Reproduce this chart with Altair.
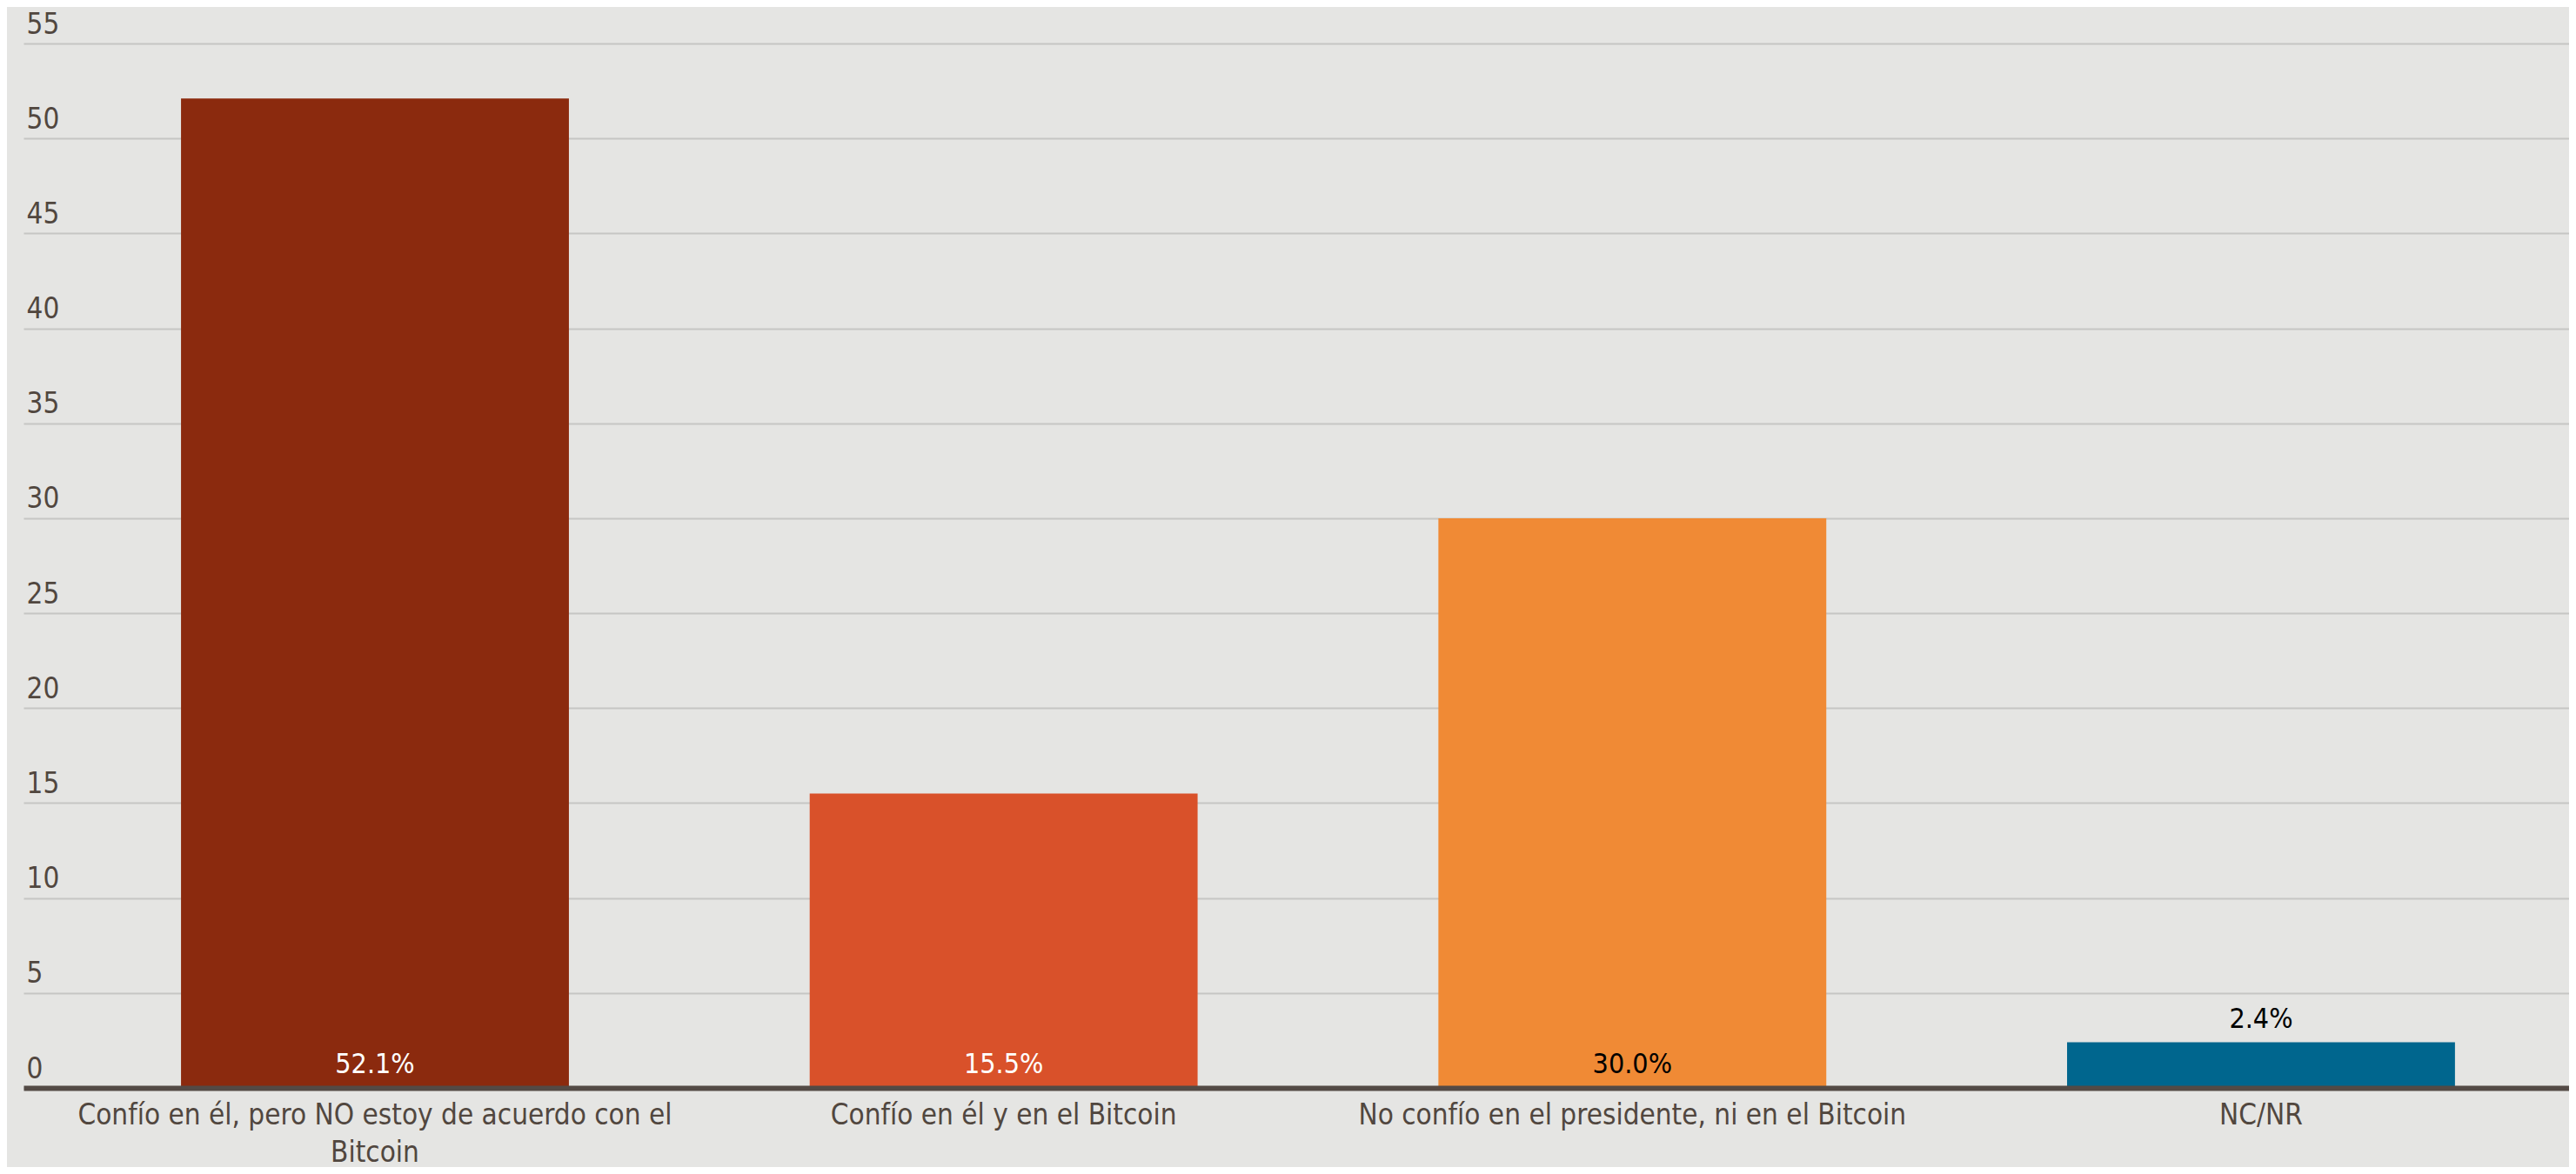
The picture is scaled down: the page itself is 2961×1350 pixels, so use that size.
import altair as alt
import pandas as pd

categories = [
    "Confío en él, pero NO estoy de acuerdo con el|Bitcoin",
    "Confío en él y en el Bitcoin",
    "No confío en el presidente, ni en el Bitcoin",
    "NC/NR",
]
values = [52.1, 15.5, 30.0, 2.4]
value_labels = ["52.1%", "15.5%", "30.0%", "2.4%"]
bar_colors = ["#8B2A0E", "#D9512A", "#F08A35", "#00668E"]
label_colors = ["#FFFFFF", "#FFFFFF", "#000000", "#000000"]
y_ticks = [0, 5, 10, 15, 20, 25, 30, 35, 40, 45, 50, 55]

df = pd.DataFrame({"cat": categories, "value": values, "label": value_labels})

FONT = "Liberation Sans Narrow, DejaVu Sans Condensed, sans-serif"
TEXT = "#51473f"

x_enc = alt.X(
    "cat:N",
    sort=categories,
    scale=alt.Scale(paddingInner=0.383, paddingOuter=0.216, align=0.58),
    axis=alt.Axis(
        title=None,
        labelAngle=0,
        labelExpr="split(datum.label, '|')",
        labelFont=FONT,
        labelFontSize=33,
        labelColor=TEXT,
        labelLineHeight=43,
        labelPadding=15,
        labelLimit=2000,
        ticks=False,
        domain=True,
        domainColor="#534A45",
        domainWidth=6,
        grid=False,
        zindex=1,
    ),
)

bars = alt.Chart(df).mark_bar().encode(
    x=x_enc,
    y=alt.Y(
        "value:Q",
        scale=alt.Scale(domain=[0, 55], nice=False),
        axis=alt.Axis(
            title=None,
            values=y_ticks,
            grid=True,
            gridColor="#C6C6C4",
            gridWidth=2,
            domain=False,
            ticks=False,
            tickSize=0,
            labelAlign="left",
            labelBaseline="alphabetic",
            labelPadding=-3,
            labelOffset=-12,
            labelFont=FONT,
            labelFontSize=33,
            labelColor=TEXT,
        ),
    ),
    color=alt.Color(
        "cat:N",
        scale=alt.Scale(domain=categories, range=bar_colors),
        legend=None,
    ),
)

texts = (
    alt.Chart(df)
    .transform_calculate(pos="datum.value < 5 ? datum.value : 0")
    .mark_text(baseline="middle", align="center", dy=-27, font=FONT, fontSize=32)
    .encode(
        x=alt.X("cat:N", sort=categories),
        y=alt.Y("pos:Q"),
        text="label:N",
        color=alt.Color(
            "cat:N",
            scale=alt.Scale(domain=categories, range=label_colors),
            legend=None,
        ),
    )
)

chart = (
    alt.layer(bars, texts)
    .resolve_scale(color="independent")
    .properties(
        width=2926,
        height=1201,
        background="#E5E5E3",
        padding={"left": 19, "top": 42, "right": 0, "bottom": 91},
        autosize=alt.AutoSizeParams(type="none"),
    )
    .configure_view(stroke=None)
)

chart.save("out.html", embed_options={"renderer": "svg", "actions": False})
